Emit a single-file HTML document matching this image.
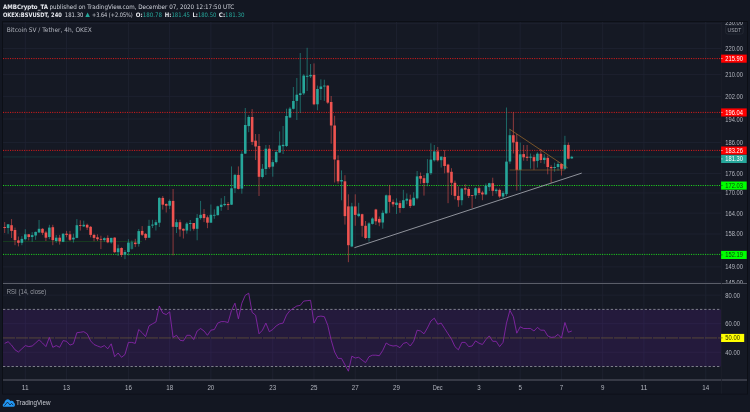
<!DOCTYPE html>
<html><head><meta charset="utf-8"><style>
html,body{margin:0;padding:0;background:#131722;width:750px;height:412px;overflow:hidden}
svg{display:block}
text{font-family:'Liberation Sans', Arial, sans-serif}
</style></head><body>
<svg width="750" height="412" viewBox="0 0 750 412">
<rect x="0" y="0" width="750" height="412" fill="#131722"/>
<text x="3" y="9.1" font-size="6.2" fill="#e8eaf0" textLength="45" lengthAdjust="spacingAndGlyphs" font-weight="bold" style="font-family:'DejaVu Sans',sans-serif">AMBCrypto_TA</text>
<text x="49.4" y="9.1" font-size="6.2" fill="#d1d4dc" textLength="184.8" lengthAdjust="spacingAndGlyphs" style="font-family:'DejaVu Sans',sans-serif">published on TradingView.com, December 07, 2020 12:17:50 UTC</text>
<text x="3" y="17.1" font-size="6.1" fill="#e8eaf0" textLength="58.8" lengthAdjust="spacingAndGlyphs" font-weight="bold" style="font-family:'DejaVu Sans',sans-serif">OKEX:BSVUSDT, 240</text>
<text x="64.8" y="17.1" font-size="6.1" fill="#d1d4dc" textLength="18.6" lengthAdjust="spacingAndGlyphs" style="font-family:'DejaVu Sans',sans-serif">181.30</text>
<polygon points="85.3,16.9 89.9,16.9 87.6,12.5" fill="#26a69a"/>
<text x="92" y="17.1" font-size="6.1" fill="#d1d4dc" textLength="40.8" lengthAdjust="spacingAndGlyphs" style="font-family:'DejaVu Sans',sans-serif">+3.64 (+2.05%)</text>
<text x="135.8" y="17.1" font-size="6.1" fill="#26a69a" textLength="26.2" lengthAdjust="spacingAndGlyphs" style="font-family:'DejaVu Sans',sans-serif"><tspan font-weight="bold" fill="#e8eaf0">O:</tspan>180.78</text>
<text x="164.8" y="17.1" font-size="6.1" fill="#26a69a" textLength="25.2" lengthAdjust="spacingAndGlyphs" style="font-family:'DejaVu Sans',sans-serif"><tspan font-weight="bold" fill="#e8eaf0">H:</tspan>181.45</text>
<text x="192.4" y="17.1" font-size="6.1" fill="#26a69a" textLength="24.0" lengthAdjust="spacingAndGlyphs" style="font-family:'DejaVu Sans',sans-serif"><tspan font-weight="bold" fill="#e8eaf0">L:</tspan>180.50</text>
<text x="218.8" y="17.1" font-size="6.1" fill="#26a69a" textLength="25.8" lengthAdjust="spacingAndGlyphs" style="font-family:'DejaVu Sans',sans-serif"><tspan font-weight="bold" fill="#e8eaf0">C:</tspan>181.30</text>
<rect x="2.5" y="21.5" width="745" height="372.5" fill="#151924" stroke="#0c0f16" stroke-width="1"/>
<line x1="25.30" y1="22" x2="25.30" y2="380" stroke="#1f2332" stroke-width="0.8"/>
<line x1="66.54" y1="22" x2="66.54" y2="380" stroke="#1f2332" stroke-width="0.8"/>
<line x1="128.40" y1="22" x2="128.40" y2="380" stroke="#1f2332" stroke-width="0.8"/>
<line x1="169.64" y1="22" x2="169.64" y2="380" stroke="#1f2332" stroke-width="0.8"/>
<line x1="210.88" y1="22" x2="210.88" y2="380" stroke="#1f2332" stroke-width="0.8"/>
<line x1="272.74" y1="22" x2="272.74" y2="380" stroke="#1f2332" stroke-width="0.8"/>
<line x1="313.98" y1="22" x2="313.98" y2="380" stroke="#1f2332" stroke-width="0.8"/>
<line x1="355.22" y1="22" x2="355.22" y2="380" stroke="#1f2332" stroke-width="0.8"/>
<line x1="396.46" y1="22" x2="396.46" y2="380" stroke="#1f2332" stroke-width="0.8"/>
<line x1="437.70" y1="22" x2="437.70" y2="380" stroke="#1f2332" stroke-width="0.8"/>
<line x1="478.94" y1="22" x2="478.94" y2="380" stroke="#1f2332" stroke-width="0.8"/>
<line x1="520.18" y1="22" x2="520.18" y2="380" stroke="#1f2332" stroke-width="0.8"/>
<line x1="561.42" y1="22" x2="561.42" y2="380" stroke="#1f2332" stroke-width="0.8"/>
<line x1="602.66" y1="22" x2="602.66" y2="380" stroke="#1f2332" stroke-width="0.8"/>
<line x1="643.90" y1="22" x2="643.90" y2="380" stroke="#1f2332" stroke-width="0.8"/>
<line x1="705.76" y1="22" x2="705.76" y2="380" stroke="#1f2332" stroke-width="0.8"/>
<line x1="3" y1="23.66" x2="721" y2="23.66" stroke="#1f2332" stroke-width="0.8"/>
<line x1="3" y1="48.56" x2="721" y2="48.56" stroke="#1f2332" stroke-width="0.8"/>
<line x1="3" y1="74.61" x2="721" y2="74.61" stroke="#1f2332" stroke-width="0.8"/>
<line x1="3" y1="96.37" x2="721" y2="96.37" stroke="#1f2332" stroke-width="0.8"/>
<line x1="3" y1="119.01" x2="721" y2="119.01" stroke="#1f2332" stroke-width="0.8"/>
<line x1="3" y1="142.60" x2="721" y2="142.60" stroke="#1f2332" stroke-width="0.8"/>
<line x1="3" y1="173.55" x2="721" y2="173.55" stroke="#1f2332" stroke-width="0.8"/>
<line x1="3" y1="192.98" x2="721" y2="192.98" stroke="#1f2332" stroke-width="0.8"/>
<line x1="3" y1="213.11" x2="721" y2="213.11" stroke="#1f2332" stroke-width="0.8"/>
<line x1="3" y1="233.99" x2="721" y2="233.99" stroke="#1f2332" stroke-width="0.8"/>
<line x1="3" y1="266.84" x2="721" y2="266.84" stroke="#1f2332" stroke-width="0.8"/>
<line x1="3" y1="282.08" x2="721" y2="282.08" stroke="#1f2332" stroke-width="0.8"/>
<line x1="3" y1="295.12" x2="721" y2="295.12" stroke="#1f2332" stroke-width="0.8"/>
<line x1="3" y1="323.68" x2="721" y2="323.68" stroke="#1f2332" stroke-width="0.8"/>
<line x1="3" y1="352.22" x2="721" y2="352.22" stroke="#1f2332" stroke-width="0.8"/>
<rect x="3" y="309.40" width="718" height="57.10" fill="#7d22d8" fill-opacity="0.14"/>
<line x1="3" y1="309.40" x2="721" y2="309.40" stroke="#9598a1" stroke-width="0.8" stroke-dasharray="2.3 1.95"/>
<line x1="3" y1="366.50" x2="721" y2="366.50" stroke="#9598a1" stroke-width="0.8" stroke-dasharray="2.3 1.95"/>
<line x1="3" y1="337.95" x2="721" y2="337.95" stroke="#857238" stroke-width="0.5" stroke-dasharray="12 1"/>
<polyline points="4.68,343.40 8.12,341.70 11.55,345.10 14.99,349.80 18.43,352.00 21.86,348.80 25.30,345.60 28.74,346.60 32.18,346.00 35.61,343.00 39.05,339.80 42.49,343.00 45.92,346.60 49.36,337.40 52.80,347.30 56.23,345.60 59.67,347.30 63.11,340.60 66.55,341.30 69.98,345.10 73.42,343.80 76.86,332.70 80.29,332.30 83.73,331.70 87.17,333.80 90.60,340.90 94.04,344.50 97.48,346.00 100.92,347.30 104.35,345.60 107.79,348.80 111.23,343.80 114.66,356.70 118.10,353.00 121.54,357.30 124.97,354.50 128.41,342.40 131.85,342.40 135.29,343.40 138.72,329.50 142.16,332.70 145.60,336.60 149.03,325.90 152.47,323.80 155.91,322.00 159.34,306.00 162.78,313.10 166.22,314.60 169.66,311.80 173.09,337.40 176.53,335.30 179.97,340.20 183.40,340.90 186.84,335.30 190.28,335.30 193.72,339.60 197.15,331.00 200.59,328.50 204.03,331.00 207.46,335.30 210.90,330.20 214.34,329.50 217.77,323.10 221.21,321.60 224.65,321.60 228.09,322.50 231.52,310.30 234.96,303.20 238.40,318.80 241.83,303.20 245.27,295.30 248.71,293.20 252.14,312.40 255.58,315.20 259.02,333.80 262.45,330.20 265.89,323.10 269.33,331.70 272.77,329.50 276.20,325.90 279.64,323.80 283.08,323.10 286.51,315.00 289.95,310.60 293.39,308.20 296.82,306.00 300.26,305.40 303.70,301.10 307.14,300.70 310.57,300.30 314.01,323.10 317.45,316.70 320.88,316.10 324.32,316.70 327.76,325.30 331.19,340.20 334.63,352.00 338.07,358.40 341.51,358.40 344.94,364.80 348.38,371.20 351.82,356.20 355.25,358.00 358.69,357.30 362.13,360.10 365.56,362.60 369.00,356.70 372.44,355.20 375.88,355.20 379.31,355.70 382.75,350.40 386.19,343.00 389.62,345.10 393.06,346.00 396.50,345.60 399.94,347.70 403.37,343.40 406.81,342.40 410.25,346.00 413.68,341.30 417.12,330.20 420.56,331.00 423.99,333.80 427.43,328.00 430.87,321.00 434.31,318.20 437.74,324.20 441.18,323.10 444.62,328.50 448.05,333.80 451.49,339.10 454.93,346.60 458.36,349.80 461.80,342.40 465.24,342.40 468.68,346.60 472.11,346.00 475.55,340.90 478.99,343.20 482.42,344.50 485.86,339.60 489.30,335.90 492.73,341.30 496.17,341.30 499.61,346.60 503.04,342.40 506.48,323.10 509.92,310.30 513.36,316.70 516.79,333.20 520.23,326.80 523.67,328.50 527.10,328.50 530.54,328.50 533.98,331.00 537.41,327.40 540.85,330.20 544.29,330.20 547.73,335.90 551.16,337.40 554.60,337.00 558.04,334.40 561.47,338.10 564.91,322.50 568.35,332.30 571.78,331.00" fill="none" stroke="#9027b4" stroke-width="0.8" stroke-linejoin="round"/>
<line x1="3" y1="58.60" x2="721" y2="58.60" stroke="#d81c1c" stroke-width="1" stroke-dasharray="1.1 1.24"/>
<line x1="3" y1="112.40" x2="721" y2="112.40" stroke="#d81c1c" stroke-width="1" stroke-dasharray="1.1 1.24"/>
<line x1="3" y1="150.40" x2="721" y2="150.40" stroke="#d81c1c" stroke-width="1" stroke-dasharray="1.1 1.24"/>
<line x1="3" y1="185.50" x2="721" y2="185.50" stroke="#1fd41f" stroke-width="1" stroke-dasharray="1.1 1.24"/>
<line x1="3" y1="254.40" x2="721" y2="254.40" stroke="#1fd41f" stroke-width="1" stroke-dasharray="1.1 1.24"/>
<line x1="3" y1="241.5" x2="142" y2="241.5" stroke="#1a501e" stroke-width="0.6"/>
<line x1="3" y1="156.93" x2="721" y2="156.93" stroke="#1b4446" stroke-width="0.6"/>
<line x1="4.68" y1="222.10" x2="4.68" y2="233.00" stroke="#e0504d" stroke-width="0.6"/>
<rect x="3.38" y="227.00" width="2.6" height="1.00" fill="#ef5350"/>
<line x1="8.12" y1="224.00" x2="8.12" y2="233.70" stroke="#24a094" stroke-width="0.6"/>
<rect x="6.82" y="224.30" width="2.6" height="3.70" fill="#26a69a"/>
<line x1="11.55" y1="219.10" x2="11.55" y2="238.00" stroke="#e0504d" stroke-width="0.6"/>
<rect x="10.25" y="225.20" width="2.6" height="5.70" fill="#ef5350"/>
<line x1="14.99" y1="227.60" x2="14.99" y2="245.20" stroke="#e0504d" stroke-width="0.6"/>
<rect x="13.69" y="230.00" width="2.6" height="10.10" fill="#ef5350"/>
<line x1="18.43" y1="236.50" x2="18.43" y2="246.40" stroke="#e0504d" stroke-width="0.6"/>
<rect x="17.13" y="240.40" width="2.6" height="2.40" fill="#ef5350"/>
<line x1="21.86" y1="236.10" x2="21.86" y2="245.20" stroke="#24a094" stroke-width="0.6"/>
<rect x="20.56" y="238.90" width="2.6" height="3.90" fill="#26a69a"/>
<line x1="25.30" y1="229.20" x2="25.30" y2="240.40" stroke="#24a094" stroke-width="0.6"/>
<rect x="24.00" y="234.30" width="2.6" height="4.90" fill="#26a69a"/>
<line x1="28.74" y1="234.00" x2="28.74" y2="240.40" stroke="#e0504d" stroke-width="0.6"/>
<rect x="27.44" y="234.30" width="2.6" height="2.70" fill="#ef5350"/>
<line x1="32.18" y1="232.10" x2="32.18" y2="241.80" stroke="#24a094" stroke-width="0.6"/>
<rect x="30.88" y="235.10" width="2.6" height="1.90" fill="#26a69a"/>
<line x1="35.61" y1="231.60" x2="35.61" y2="239.80" stroke="#24a094" stroke-width="0.6"/>
<rect x="34.31" y="231.90" width="2.6" height="3.60" fill="#26a69a"/>
<line x1="39.05" y1="220.00" x2="39.05" y2="232.70" stroke="#24a094" stroke-width="0.6"/>
<rect x="37.75" y="228.80" width="2.6" height="3.70" fill="#26a69a"/>
<line x1="42.49" y1="228.20" x2="42.49" y2="234.90" stroke="#e0504d" stroke-width="0.6"/>
<rect x="41.19" y="228.80" width="2.6" height="4.00" fill="#ef5350"/>
<line x1="45.92" y1="230.90" x2="45.92" y2="241.00" stroke="#e0504d" stroke-width="0.6"/>
<rect x="44.62" y="232.50" width="2.6" height="5.20" fill="#ef5350"/>
<line x1="49.36" y1="224.80" x2="49.36" y2="239.20" stroke="#24a094" stroke-width="0.6"/>
<rect x="48.06" y="227.60" width="2.6" height="9.40" fill="#26a69a"/>
<line x1="52.80" y1="224.80" x2="52.80" y2="245.20" stroke="#e0504d" stroke-width="0.6"/>
<rect x="51.50" y="227.20" width="2.6" height="12.90" fill="#ef5350"/>
<line x1="56.23" y1="235.00" x2="56.23" y2="242.80" stroke="#24a094" stroke-width="0.6"/>
<rect x="54.94" y="237.70" width="2.6" height="3.30" fill="#26a69a"/>
<line x1="59.67" y1="234.90" x2="59.67" y2="244.60" stroke="#e0504d" stroke-width="0.6"/>
<rect x="58.37" y="237.70" width="2.6" height="3.60" fill="#ef5350"/>
<line x1="63.11" y1="233.30" x2="63.11" y2="242.20" stroke="#24a094" stroke-width="0.6"/>
<rect x="61.81" y="233.70" width="2.6" height="8.10" fill="#26a69a"/>
<line x1="66.55" y1="230.90" x2="66.55" y2="237.30" stroke="#e0504d" stroke-width="0.6"/>
<rect x="65.25" y="233.70" width="2.6" height="1.20" fill="#ef5350"/>
<line x1="69.98" y1="230.90" x2="69.98" y2="241.00" stroke="#e0504d" stroke-width="0.6"/>
<rect x="68.68" y="234.30" width="2.6" height="5.50" fill="#ef5350"/>
<line x1="73.42" y1="233.70" x2="73.42" y2="242.60" stroke="#24a094" stroke-width="0.6"/>
<rect x="72.12" y="237.70" width="2.6" height="1.70" fill="#26a69a"/>
<line x1="76.86" y1="219.10" x2="76.86" y2="238.20" stroke="#24a094" stroke-width="0.6"/>
<rect x="75.56" y="225.20" width="2.6" height="12.70" fill="#26a69a"/>
<line x1="80.29" y1="220.30" x2="80.29" y2="230.60" stroke="#e0504d" stroke-width="0.6"/>
<rect x="78.99" y="225.20" width="2.6" height="0.80" fill="#ef5350"/>
<line x1="83.73" y1="220.70" x2="83.73" y2="227.00" stroke="#24a094" stroke-width="0.6"/>
<rect x="82.43" y="224.80" width="2.6" height="1.60" fill="#26a69a"/>
<line x1="87.17" y1="223.60" x2="87.17" y2="230.00" stroke="#e0504d" stroke-width="0.6"/>
<rect x="85.87" y="224.80" width="2.6" height="2.80" fill="#ef5350"/>
<line x1="90.60" y1="226.00" x2="90.60" y2="237.30" stroke="#e0504d" stroke-width="0.6"/>
<rect x="89.30" y="226.80" width="2.6" height="8.10" fill="#ef5350"/>
<line x1="94.04" y1="233.70" x2="94.04" y2="241.30" stroke="#e0504d" stroke-width="0.6"/>
<rect x="92.74" y="234.90" width="2.6" height="3.00" fill="#ef5350"/>
<line x1="97.48" y1="234.30" x2="97.48" y2="241.00" stroke="#e0504d" stroke-width="0.6"/>
<rect x="96.18" y="237.30" width="2.6" height="1.90" fill="#ef5350"/>
<line x1="100.92" y1="235.70" x2="100.92" y2="249.10" stroke="#e0504d" stroke-width="0.6"/>
<rect x="99.62" y="238.90" width="2.6" height="0.90" fill="#ef5350"/>
<line x1="104.35" y1="237.30" x2="104.35" y2="241.80" stroke="#24a094" stroke-width="0.6"/>
<rect x="103.05" y="238.20" width="2.6" height="1.90" fill="#26a69a"/>
<line x1="107.79" y1="235.30" x2="107.79" y2="243.20" stroke="#e0504d" stroke-width="0.6"/>
<rect x="106.49" y="237.90" width="2.6" height="4.40" fill="#ef5350"/>
<line x1="111.23" y1="237.80" x2="111.23" y2="243.70" stroke="#24a094" stroke-width="0.6"/>
<rect x="109.93" y="237.90" width="2.6" height="4.50" fill="#26a69a"/>
<line x1="114.66" y1="237.30" x2="114.66" y2="252.80" stroke="#e0504d" stroke-width="0.6"/>
<rect x="113.36" y="237.60" width="2.6" height="14.60" fill="#ef5350"/>
<line x1="118.10" y1="244.60" x2="118.10" y2="256.00" stroke="#24a094" stroke-width="0.6"/>
<rect x="116.80" y="248.30" width="2.6" height="3.90" fill="#26a69a"/>
<line x1="121.54" y1="247.30" x2="121.54" y2="257.00" stroke="#e0504d" stroke-width="0.6"/>
<rect x="120.24" y="248.00" width="2.6" height="6.90" fill="#ef5350"/>
<line x1="124.97" y1="250.00" x2="124.97" y2="259.20" stroke="#24a094" stroke-width="0.6"/>
<rect x="123.67" y="252.00" width="2.6" height="2.60" fill="#26a69a"/>
<line x1="128.41" y1="239.20" x2="128.41" y2="255.50" stroke="#24a094" stroke-width="0.6"/>
<rect x="127.11" y="242.60" width="2.6" height="9.40" fill="#26a69a"/>
<line x1="131.85" y1="240.50" x2="131.85" y2="249.50" stroke="#24a094" stroke-width="0.6"/>
<rect x="130.55" y="242.00" width="2.6" height="6.90" fill="#1d6e68"/>
<line x1="135.29" y1="238.80" x2="135.29" y2="247.10" stroke="#e0504d" stroke-width="0.6"/>
<rect x="133.99" y="242.60" width="2.6" height="1.50" fill="#ef5350"/>
<line x1="138.72" y1="229.00" x2="138.72" y2="246.60" stroke="#24a094" stroke-width="0.6"/>
<rect x="137.42" y="231.10" width="2.6" height="12.80" fill="#26a69a"/>
<line x1="142.16" y1="226.10" x2="142.16" y2="236.00" stroke="#e0504d" stroke-width="0.6"/>
<rect x="140.86" y="230.90" width="2.6" height="3.90" fill="#ef5350"/>
<line x1="145.60" y1="233.00" x2="145.60" y2="240.20" stroke="#e0504d" stroke-width="0.6"/>
<rect x="144.30" y="233.90" width="2.6" height="4.00" fill="#ef5350"/>
<line x1="149.03" y1="219.80" x2="149.03" y2="238.00" stroke="#24a094" stroke-width="0.6"/>
<rect x="147.73" y="225.90" width="2.6" height="11.80" fill="#26a69a"/>
<line x1="152.47" y1="219.80" x2="152.47" y2="228.00" stroke="#24a094" stroke-width="0.6"/>
<rect x="151.17" y="224.60" width="2.6" height="1.00" fill="#26a69a"/>
<line x1="155.91" y1="219.80" x2="155.91" y2="230.50" stroke="#24a094" stroke-width="0.6"/>
<rect x="154.61" y="222.20" width="2.6" height="2.90" fill="#26a69a"/>
<line x1="159.34" y1="197.20" x2="159.34" y2="227.00" stroke="#24a094" stroke-width="0.6"/>
<rect x="158.04" y="197.90" width="2.6" height="24.80" fill="#26a69a"/>
<line x1="162.78" y1="196.00" x2="162.78" y2="209.60" stroke="#e0504d" stroke-width="0.6"/>
<rect x="161.48" y="197.90" width="2.6" height="6.80" fill="#ef5350"/>
<line x1="166.22" y1="203.30" x2="166.22" y2="212.50" stroke="#e0504d" stroke-width="0.6"/>
<rect x="164.92" y="204.00" width="2.6" height="1.70" fill="#ef5350"/>
<line x1="169.66" y1="199.40" x2="169.66" y2="209.10" stroke="#24a094" stroke-width="0.6"/>
<rect x="168.36" y="200.90" width="2.6" height="4.80" fill="#26a69a"/>
<line x1="173.09" y1="189.00" x2="173.09" y2="255.40" stroke="#e0504d" stroke-width="0.6"/>
<rect x="171.79" y="200.90" width="2.6" height="25.90" fill="#ef5350"/>
<line x1="176.53" y1="219.30" x2="176.53" y2="233.00" stroke="#24a094" stroke-width="0.6"/>
<rect x="175.23" y="222.20" width="2.6" height="4.80" fill="#26a69a"/>
<line x1="179.97" y1="219.70" x2="179.97" y2="236.70" stroke="#e0504d" stroke-width="0.6"/>
<rect x="178.67" y="222.20" width="2.6" height="7.20" fill="#ef5350"/>
<line x1="183.40" y1="228.40" x2="183.40" y2="238.50" stroke="#e0504d" stroke-width="0.6"/>
<rect x="182.10" y="228.80" width="2.6" height="1.80" fill="#ef5350"/>
<line x1="186.84" y1="222.10" x2="186.84" y2="233.70" stroke="#24a094" stroke-width="0.6"/>
<rect x="185.54" y="223.60" width="2.6" height="6.90" fill="#26a69a"/>
<line x1="190.28" y1="220.00" x2="190.28" y2="231.20" stroke="#24a094" stroke-width="0.6"/>
<rect x="188.98" y="223.00" width="2.6" height="1.00" fill="#26a69a"/>
<line x1="193.72" y1="223.00" x2="193.72" y2="230.60" stroke="#e0504d" stroke-width="0.6"/>
<rect x="192.41" y="223.00" width="2.6" height="5.80" fill="#ef5350"/>
<line x1="197.15" y1="214.00" x2="197.15" y2="240.30" stroke="#24a094" stroke-width="0.6"/>
<rect x="195.85" y="217.90" width="2.6" height="10.90" fill="#26a69a"/>
<line x1="200.59" y1="200.90" x2="200.59" y2="219.70" stroke="#24a094" stroke-width="0.6"/>
<rect x="199.29" y="214.80" width="2.6" height="3.30" fill="#26a69a"/>
<line x1="204.03" y1="209.10" x2="204.03" y2="222.10" stroke="#e0504d" stroke-width="0.6"/>
<rect x="202.73" y="214.00" width="2.6" height="4.10" fill="#ef5350"/>
<line x1="207.46" y1="215.40" x2="207.46" y2="228.20" stroke="#e0504d" stroke-width="0.6"/>
<rect x="206.16" y="217.30" width="2.6" height="5.40" fill="#ef5350"/>
<line x1="210.90" y1="204.50" x2="210.90" y2="222.70" stroke="#24a094" stroke-width="0.6"/>
<rect x="209.60" y="214.80" width="2.6" height="7.90" fill="#26a69a"/>
<line x1="214.34" y1="209.40" x2="214.34" y2="218.80" stroke="#24a094" stroke-width="0.6"/>
<rect x="213.04" y="214.80" width="2.6" height="0.90" fill="#26a69a"/>
<line x1="217.77" y1="205.70" x2="217.77" y2="215.40" stroke="#24a094" stroke-width="0.6"/>
<rect x="216.47" y="206.30" width="2.6" height="8.90" fill="#26a69a"/>
<line x1="221.21" y1="198.20" x2="221.21" y2="210.80" stroke="#24a094" stroke-width="0.6"/>
<rect x="219.91" y="204.70" width="2.6" height="2.20" fill="#26a69a"/>
<line x1="224.65" y1="196.00" x2="224.65" y2="206.30" stroke="#24a094" stroke-width="0.6"/>
<rect x="223.35" y="203.90" width="2.6" height="1.20" fill="#26a69a"/>
<line x1="228.09" y1="202.00" x2="228.09" y2="210.00" stroke="#e0504d" stroke-width="0.6"/>
<rect x="226.78" y="204.00" width="2.6" height="1.10" fill="#ef5350"/>
<line x1="231.52" y1="166.40" x2="231.52" y2="205.00" stroke="#24a094" stroke-width="0.6"/>
<rect x="230.22" y="188.30" width="2.6" height="16.40" fill="#26a69a"/>
<line x1="234.96" y1="174.00" x2="234.96" y2="193.00" stroke="#24a094" stroke-width="0.6"/>
<rect x="233.66" y="174.90" width="2.6" height="13.40" fill="#26a69a"/>
<line x1="238.40" y1="166.40" x2="238.40" y2="189.50" stroke="#e0504d" stroke-width="0.6"/>
<rect x="237.10" y="174.90" width="2.6" height="14.00" fill="#ef5350"/>
<line x1="241.83" y1="151.20" x2="241.83" y2="193.70" stroke="#24a094" stroke-width="0.6"/>
<rect x="240.53" y="153.80" width="2.6" height="34.80" fill="#26a69a"/>
<line x1="245.27" y1="108.00" x2="245.27" y2="154.00" stroke="#24a094" stroke-width="0.6"/>
<rect x="243.97" y="125.00" width="2.6" height="28.60" fill="#26a69a"/>
<line x1="248.71" y1="115.20" x2="248.71" y2="132.20" stroke="#24a094" stroke-width="0.6"/>
<rect x="247.41" y="117.00" width="2.6" height="9.10" fill="#26a69a"/>
<line x1="252.14" y1="109.10" x2="252.14" y2="145.00" stroke="#e0504d" stroke-width="0.6"/>
<rect x="250.84" y="117.00" width="2.6" height="24.90" fill="#ef5350"/>
<line x1="255.58" y1="134.00" x2="255.58" y2="160.00" stroke="#e0504d" stroke-width="0.6"/>
<rect x="254.28" y="140.70" width="2.6" height="5.80" fill="#ef5350"/>
<line x1="259.02" y1="134.00" x2="259.02" y2="196.00" stroke="#e0504d" stroke-width="0.6"/>
<rect x="257.72" y="146.00" width="2.6" height="30.80" fill="#ef5350"/>
<line x1="262.45" y1="164.00" x2="262.45" y2="178.50" stroke="#24a094" stroke-width="0.6"/>
<rect x="261.15" y="168.80" width="2.6" height="8.20" fill="#26a69a"/>
<line x1="265.89" y1="145.00" x2="265.89" y2="175.00" stroke="#24a094" stroke-width="0.6"/>
<rect x="264.59" y="148.70" width="2.6" height="20.30" fill="#26a69a"/>
<line x1="269.33" y1="145.00" x2="269.33" y2="168.80" stroke="#e0504d" stroke-width="0.6"/>
<rect x="268.03" y="148.70" width="2.6" height="18.50" fill="#ef5350"/>
<line x1="272.77" y1="159.70" x2="272.77" y2="176.70" stroke="#24a094" stroke-width="0.6"/>
<rect x="271.47" y="162.10" width="2.6" height="4.50" fill="#26a69a"/>
<line x1="276.20" y1="150.00" x2="276.20" y2="163.40" stroke="#24a094" stroke-width="0.6"/>
<rect x="274.90" y="152.00" width="2.6" height="10.10" fill="#26a69a"/>
<line x1="279.64" y1="131.40" x2="279.64" y2="153.00" stroke="#24a094" stroke-width="0.6"/>
<rect x="278.34" y="145.50" width="2.6" height="7.00" fill="#26a69a"/>
<line x1="283.08" y1="126.00" x2="283.08" y2="154.00" stroke="#24a094" stroke-width="0.6"/>
<rect x="281.78" y="144.80" width="2.6" height="1.40" fill="#26a69a"/>
<line x1="286.51" y1="108.70" x2="286.51" y2="147.00" stroke="#24a094" stroke-width="0.6"/>
<rect x="285.21" y="116.00" width="2.6" height="30.00" fill="#26a69a"/>
<line x1="289.95" y1="106.90" x2="289.95" y2="118.00" stroke="#24a094" stroke-width="0.6"/>
<rect x="288.65" y="108.60" width="2.6" height="8.90" fill="#26a69a"/>
<line x1="293.39" y1="87.00" x2="293.39" y2="109.50" stroke="#24a094" stroke-width="0.6"/>
<rect x="292.09" y="101.00" width="2.6" height="7.80" fill="#26a69a"/>
<line x1="296.82" y1="78.00" x2="296.82" y2="120.00" stroke="#24a094" stroke-width="0.6"/>
<rect x="295.52" y="94.70" width="2.6" height="6.20" fill="#26a69a"/>
<line x1="300.26" y1="53.00" x2="300.26" y2="113.00" stroke="#24a094" stroke-width="0.6"/>
<rect x="298.96" y="93.30" width="2.6" height="1.70" fill="#26a69a"/>
<line x1="303.70" y1="74.20" x2="303.70" y2="95.00" stroke="#24a094" stroke-width="0.6"/>
<rect x="302.40" y="75.60" width="2.6" height="17.80" fill="#26a69a"/>
<line x1="307.14" y1="47.80" x2="307.14" y2="91.00" stroke="#24a094" stroke-width="0.6"/>
<rect x="305.84" y="75.80" width="2.6" height="1.00" fill="#26a69a"/>
<line x1="310.57" y1="64.00" x2="310.57" y2="78.00" stroke="#24a094" stroke-width="0.6"/>
<rect x="309.27" y="74.90" width="2.6" height="1.40" fill="#26a69a"/>
<line x1="314.01" y1="63.40" x2="314.01" y2="105.20" stroke="#e0504d" stroke-width="0.6"/>
<rect x="312.71" y="74.90" width="2.6" height="29.40" fill="#ef5350"/>
<line x1="317.45" y1="85.60" x2="317.45" y2="110.30" stroke="#24a094" stroke-width="0.6"/>
<rect x="316.15" y="89.00" width="2.6" height="15.30" fill="#26a69a"/>
<line x1="320.88" y1="79.30" x2="320.88" y2="100.00" stroke="#24a094" stroke-width="0.6"/>
<rect x="319.58" y="86.50" width="2.6" height="2.50" fill="#26a69a"/>
<line x1="324.32" y1="79.70" x2="324.32" y2="100.90" stroke="#24a094" stroke-width="0.6"/>
<rect x="323.02" y="85.60" width="2.6" height="0.90" fill="#26a69a"/>
<line x1="327.76" y1="85.30" x2="327.76" y2="103.90" stroke="#e0504d" stroke-width="0.6"/>
<rect x="326.46" y="85.60" width="2.6" height="17.00" fill="#ef5350"/>
<line x1="331.19" y1="96.00" x2="331.19" y2="143.70" stroke="#e0504d" stroke-width="0.6"/>
<rect x="329.89" y="102.00" width="2.6" height="23.50" fill="#ef5350"/>
<line x1="334.63" y1="115.80" x2="334.63" y2="182.50" stroke="#e0504d" stroke-width="0.6"/>
<rect x="333.33" y="125.50" width="2.6" height="34.00" fill="#ef5350"/>
<line x1="338.07" y1="155.30" x2="338.07" y2="183.70" stroke="#e0504d" stroke-width="0.6"/>
<rect x="336.77" y="160.20" width="2.6" height="21.10" fill="#ef5350"/>
<line x1="341.51" y1="170.40" x2="341.51" y2="200.30" stroke="#24a094" stroke-width="0.6"/>
<rect x="340.21" y="180.00" width="2.6" height="1.50" fill="#26a69a"/>
<line x1="344.94" y1="175.20" x2="344.94" y2="224.60" stroke="#e0504d" stroke-width="0.6"/>
<rect x="343.64" y="181.30" width="2.6" height="34.80" fill="#ef5350"/>
<line x1="348.38" y1="194.30" x2="348.38" y2="262.20" stroke="#e0504d" stroke-width="0.6"/>
<rect x="347.08" y="206.40" width="2.6" height="38.80" fill="#ef5350"/>
<line x1="351.82" y1="202.80" x2="351.82" y2="247.20" stroke="#24a094" stroke-width="0.6"/>
<rect x="350.52" y="206.40" width="2.6" height="40.10" fill="#26a69a"/>
<line x1="355.25" y1="194.30" x2="355.25" y2="225.80" stroke="#e0504d" stroke-width="0.6"/>
<rect x="353.95" y="206.40" width="2.6" height="8.50" fill="#ef5350"/>
<line x1="358.69" y1="202.80" x2="358.69" y2="217.30" stroke="#24a094" stroke-width="0.6"/>
<rect x="357.39" y="213.70" width="2.6" height="2.40" fill="#26a69a"/>
<line x1="362.13" y1="213.70" x2="362.13" y2="236.70" stroke="#e0504d" stroke-width="0.6"/>
<rect x="360.83" y="214.20" width="2.6" height="11.60" fill="#ef5350"/>
<line x1="365.56" y1="221.00" x2="365.56" y2="239.20" stroke="#e0504d" stroke-width="0.6"/>
<rect x="364.26" y="225.80" width="2.6" height="12.20" fill="#ef5350"/>
<line x1="369.00" y1="222.20" x2="369.00" y2="241.60" stroke="#24a094" stroke-width="0.6"/>
<rect x="367.70" y="223.40" width="2.6" height="14.60" fill="#26a69a"/>
<line x1="372.44" y1="217.30" x2="372.44" y2="224.60" stroke="#24a094" stroke-width="0.6"/>
<rect x="371.14" y="218.50" width="2.6" height="5.40" fill="#26a69a"/>
<line x1="375.88" y1="208.80" x2="375.88" y2="225.00" stroke="#e0504d" stroke-width="0.6"/>
<rect x="374.58" y="209.50" width="2.6" height="11.80" fill="#ef5350"/>
<line x1="379.31" y1="216.50" x2="379.31" y2="226.20" stroke="#e0504d" stroke-width="0.6"/>
<rect x="378.01" y="218.90" width="2.6" height="3.60" fill="#ef5350"/>
<line x1="382.75" y1="210.40" x2="382.75" y2="228.60" stroke="#24a094" stroke-width="0.6"/>
<rect x="381.45" y="212.80" width="2.6" height="9.70" fill="#26a69a"/>
<line x1="386.19" y1="194.50" x2="386.19" y2="214.00" stroke="#24a094" stroke-width="0.6"/>
<rect x="384.89" y="195.30" width="2.6" height="18.00" fill="#26a69a"/>
<line x1="389.62" y1="184.90" x2="389.62" y2="212.80" stroke="#e0504d" stroke-width="0.6"/>
<rect x="388.32" y="195.30" width="2.6" height="6.60" fill="#ef5350"/>
<line x1="393.06" y1="199.50" x2="393.06" y2="206.70" stroke="#e0504d" stroke-width="0.6"/>
<rect x="391.76" y="201.90" width="2.6" height="2.40" fill="#ef5350"/>
<line x1="396.50" y1="198.30" x2="396.50" y2="214.00" stroke="#24a094" stroke-width="0.6"/>
<rect x="395.20" y="202.60" width="2.6" height="2.40" fill="#26a69a"/>
<line x1="399.94" y1="200.70" x2="399.94" y2="212.80" stroke="#e0504d" stroke-width="0.6"/>
<rect x="398.63" y="203.10" width="2.6" height="4.90" fill="#ef5350"/>
<line x1="403.37" y1="189.80" x2="403.37" y2="208.40" stroke="#24a094" stroke-width="0.6"/>
<rect x="402.07" y="200.20" width="2.6" height="7.80" fill="#26a69a"/>
<line x1="406.81" y1="193.40" x2="406.81" y2="204.30" stroke="#24a094" stroke-width="0.6"/>
<rect x="405.51" y="198.70" width="2.6" height="2.00" fill="#26a69a"/>
<line x1="410.25" y1="194.60" x2="410.25" y2="208.00" stroke="#e0504d" stroke-width="0.6"/>
<rect x="408.95" y="199.50" width="2.6" height="6.50" fill="#ef5350"/>
<line x1="413.68" y1="192.20" x2="413.68" y2="206.00" stroke="#24a094" stroke-width="0.6"/>
<rect x="412.38" y="197.80" width="2.6" height="7.70" fill="#26a69a"/>
<line x1="417.12" y1="171.00" x2="417.12" y2="199.50" stroke="#24a094" stroke-width="0.6"/>
<rect x="415.82" y="176.40" width="2.6" height="21.90" fill="#26a69a"/>
<line x1="420.56" y1="172.50" x2="420.56" y2="183.70" stroke="#e0504d" stroke-width="0.6"/>
<rect x="419.26" y="176.00" width="2.6" height="2.70" fill="#ef5350"/>
<line x1="423.99" y1="174.90" x2="423.99" y2="195.60" stroke="#e0504d" stroke-width="0.6"/>
<rect x="422.69" y="178.20" width="2.6" height="4.80" fill="#ef5350"/>
<line x1="427.43" y1="159.10" x2="427.43" y2="186.30" stroke="#24a094" stroke-width="0.6"/>
<rect x="426.13" y="173.20" width="2.6" height="9.70" fill="#26a69a"/>
<line x1="430.87" y1="143.30" x2="430.87" y2="174.90" stroke="#24a094" stroke-width="0.6"/>
<rect x="429.57" y="159.60" width="2.6" height="13.60" fill="#26a69a"/>
<line x1="434.31" y1="145.00" x2="434.31" y2="161.60" stroke="#24a094" stroke-width="0.6"/>
<rect x="433.00" y="151.40" width="2.6" height="8.90" fill="#26a69a"/>
<line x1="437.74" y1="147.00" x2="437.74" y2="161.60" stroke="#e0504d" stroke-width="0.6"/>
<rect x="436.44" y="151.40" width="2.6" height="8.90" fill="#ef5350"/>
<line x1="441.18" y1="156.60" x2="441.18" y2="167.50" stroke="#24a094" stroke-width="0.6"/>
<rect x="439.88" y="156.60" width="2.6" height="3.60" fill="#26a69a"/>
<line x1="444.62" y1="150.00" x2="444.62" y2="173.30" stroke="#e0504d" stroke-width="0.6"/>
<rect x="443.32" y="157.00" width="2.6" height="9.00" fill="#ef5350"/>
<line x1="448.05" y1="163.80" x2="448.05" y2="203.20" stroke="#e0504d" stroke-width="0.6"/>
<rect x="446.75" y="164.60" width="2.6" height="8.00" fill="#ef5350"/>
<line x1="451.49" y1="168.20" x2="451.49" y2="195.10" stroke="#e0504d" stroke-width="0.6"/>
<rect x="450.19" y="171.80" width="2.6" height="11.00" fill="#ef5350"/>
<line x1="454.93" y1="180.60" x2="454.93" y2="199.50" stroke="#e0504d" stroke-width="0.6"/>
<rect x="453.63" y="182.80" width="2.6" height="13.10" fill="#ef5350"/>
<line x1="458.36" y1="186.40" x2="458.36" y2="206.80" stroke="#e0504d" stroke-width="0.6"/>
<rect x="457.06" y="195.90" width="2.6" height="4.30" fill="#ef5350"/>
<line x1="461.80" y1="187.90" x2="461.80" y2="205.30" stroke="#24a094" stroke-width="0.6"/>
<rect x="460.50" y="188.60" width="2.6" height="11.60" fill="#26a69a"/>
<line x1="465.24" y1="184.20" x2="465.24" y2="194.40" stroke="#e0504d" stroke-width="0.6"/>
<rect x="463.94" y="188.20" width="2.6" height="1.40" fill="#ef5350"/>
<line x1="468.68" y1="187.10" x2="468.68" y2="198.00" stroke="#e0504d" stroke-width="0.6"/>
<rect x="467.38" y="189.00" width="2.6" height="6.90" fill="#ef5350"/>
<line x1="472.11" y1="195.00" x2="472.11" y2="208.20" stroke="#e0504d" stroke-width="0.6"/>
<rect x="470.81" y="195.10" width="2.6" height="0.80" fill="#ef5350"/>
<line x1="475.55" y1="187.10" x2="475.55" y2="198.80" stroke="#24a094" stroke-width="0.6"/>
<rect x="474.25" y="188.20" width="2.6" height="7.20" fill="#26a69a"/>
<line x1="478.99" y1="186.40" x2="478.99" y2="195.00" stroke="#e0504d" stroke-width="0.6"/>
<rect x="477.69" y="188.20" width="2.6" height="4.80" fill="#ef5350"/>
<line x1="482.42" y1="190.80" x2="482.42" y2="200.20" stroke="#e0504d" stroke-width="0.6"/>
<rect x="481.12" y="192.50" width="2.6" height="1.90" fill="#ef5350"/>
<line x1="485.86" y1="183.50" x2="485.86" y2="195.20" stroke="#24a094" stroke-width="0.6"/>
<rect x="484.56" y="185.70" width="2.6" height="8.70" fill="#26a69a"/>
<line x1="489.30" y1="182.80" x2="489.30" y2="191.00" stroke="#24a094" stroke-width="0.6"/>
<rect x="488.00" y="183.20" width="2.6" height="3.90" fill="#26a69a"/>
<line x1="492.73" y1="177.70" x2="492.73" y2="195.90" stroke="#e0504d" stroke-width="0.6"/>
<rect x="491.43" y="183.20" width="2.6" height="7.60" fill="#ef5350"/>
<line x1="496.17" y1="188.20" x2="496.17" y2="193.60" stroke="#24a094" stroke-width="0.6"/>
<rect x="494.87" y="189.60" width="2.6" height="1.50" fill="#26a69a"/>
<line x1="499.61" y1="188.50" x2="499.61" y2="198.20" stroke="#e0504d" stroke-width="0.6"/>
<rect x="498.31" y="189.90" width="2.6" height="6.60" fill="#ef5350"/>
<line x1="503.04" y1="191.00" x2="503.04" y2="198.50" stroke="#24a094" stroke-width="0.6"/>
<rect x="501.74" y="192.90" width="2.6" height="3.60" fill="#26a69a"/>
<line x1="506.48" y1="107.50" x2="506.48" y2="196.00" stroke="#24a094" stroke-width="0.6"/>
<rect x="505.18" y="161.60" width="2.6" height="32.50" fill="#26a69a"/>
<line x1="509.92" y1="129.10" x2="509.92" y2="163.80" stroke="#24a094" stroke-width="0.6"/>
<rect x="508.62" y="135.20" width="2.6" height="26.30" fill="#26a69a"/>
<line x1="513.36" y1="112.10" x2="513.36" y2="153.50" stroke="#e0504d" stroke-width="0.6"/>
<rect x="512.06" y="135.20" width="2.6" height="7.30" fill="#ef5350"/>
<line x1="516.79" y1="134.00" x2="516.79" y2="190.50" stroke="#e0504d" stroke-width="0.6"/>
<rect x="515.49" y="141.80" width="2.6" height="28.00" fill="#ef5350"/>
<line x1="520.23" y1="142.50" x2="520.23" y2="190.50" stroke="#24a094" stroke-width="0.6"/>
<rect x="518.93" y="154.30" width="2.6" height="15.50" fill="#26a69a"/>
<line x1="523.67" y1="145.00" x2="523.67" y2="160.70" stroke="#e0504d" stroke-width="0.6"/>
<rect x="522.37" y="154.10" width="2.6" height="3.20" fill="#ef5350"/>
<line x1="527.10" y1="145.00" x2="527.10" y2="161.00" stroke="#e0504d" stroke-width="0.6"/>
<rect x="525.80" y="156.70" width="2.6" height="1.20" fill="#ef5350"/>
<line x1="530.54" y1="153.50" x2="530.54" y2="168.60" stroke="#24a094" stroke-width="0.6"/>
<rect x="529.24" y="156.70" width="2.6" height="1.00" fill="#26a69a"/>
<line x1="533.98" y1="154.60" x2="533.98" y2="169.80" stroke="#e0504d" stroke-width="0.6"/>
<rect x="532.68" y="157.10" width="2.6" height="4.20" fill="#ef5350"/>
<line x1="537.41" y1="152.20" x2="537.41" y2="167.60" stroke="#24a094" stroke-width="0.6"/>
<rect x="536.12" y="153.70" width="2.6" height="7.20" fill="#26a69a"/>
<line x1="540.85" y1="149.10" x2="540.85" y2="163.00" stroke="#e0504d" stroke-width="0.6"/>
<rect x="539.55" y="153.80" width="2.6" height="6.20" fill="#ef5350"/>
<line x1="544.29" y1="154.10" x2="544.29" y2="163.80" stroke="#24a094" stroke-width="0.6"/>
<rect x="542.99" y="157.70" width="2.6" height="2.30" fill="#26a69a"/>
<line x1="547.73" y1="155.50" x2="547.73" y2="174.30" stroke="#e0504d" stroke-width="0.6"/>
<rect x="546.43" y="157.90" width="2.6" height="9.10" fill="#ef5350"/>
<line x1="551.16" y1="165.20" x2="551.16" y2="182.80" stroke="#e0504d" stroke-width="0.6"/>
<rect x="549.86" y="167.00" width="2.6" height="1.20" fill="#ef5350"/>
<line x1="554.60" y1="162.70" x2="554.60" y2="171.80" stroke="#24a094" stroke-width="0.6"/>
<rect x="553.30" y="167.00" width="2.6" height="1.00" fill="#26a69a"/>
<line x1="558.04" y1="161.50" x2="558.04" y2="170.60" stroke="#24a094" stroke-width="0.6"/>
<rect x="556.74" y="164.00" width="2.6" height="3.00" fill="#26a69a"/>
<line x1="561.47" y1="163.50" x2="561.47" y2="175.50" stroke="#e0504d" stroke-width="0.6"/>
<rect x="560.17" y="164.00" width="2.6" height="4.80" fill="#ef5350"/>
<line x1="564.91" y1="135.80" x2="564.91" y2="170.00" stroke="#24a094" stroke-width="0.6"/>
<rect x="563.61" y="144.90" width="2.6" height="23.90" fill="#26a69a"/>
<line x1="568.35" y1="142.50" x2="568.35" y2="159.40" stroke="#e0504d" stroke-width="0.6"/>
<rect x="567.05" y="144.90" width="2.6" height="13.80" fill="#ef5350"/>
<line x1="571.78" y1="155.80" x2="571.78" y2="158.90" stroke="#24a094" stroke-width="0.6"/>
<rect x="570.49" y="156.80" width="2.6" height="1.60" fill="#26a69a"/>
<line x1="354.4" y1="247.7" x2="581.7" y2="173.1" stroke="#b8bbc3" stroke-width="0.75"/>
<line x1="509.5" y1="129.1" x2="567.8" y2="168" stroke="#b8782a" stroke-width="0.6"/>
<line x1="509.6" y1="170" x2="564.7" y2="170" stroke="#a87028" stroke-width="0.5"/>
<text x="6.7" y="32.1" font-size="6.3" fill="#b2b5be" textLength="85" lengthAdjust="spacingAndGlyphs" style="font-family:'DejaVu Sans',sans-serif">Bitcoin SV / Tether, 4h, OKEX</text>
<text x="6.8" y="293.7" font-size="6.5" fill="#9598a1" textLength="39.5" lengthAdjust="spacingAndGlyphs">RSI (14, close)</text>
<rect x="3" y="380.5" width="744" height="13" fill="#131722"/>
<line x1="3" y1="283.5" x2="747" y2="283.5" stroke="#5a5d68" stroke-width="1.1"/>
<line x1="3" y1="380" x2="747" y2="380" stroke="#5a5d68" stroke-width="1.1"/>
<line x1="721.5" y1="22" x2="721.5" y2="393.5" stroke="#1c202b" stroke-width="0.7"/>
<defs><clipPath id="pa"><rect x="721.5" y="22" width="26" height="261.0"/></clipPath></defs>
<g clip-path="url(#pa)">
<text x="725.3" y="24.70" font-size="6.4" fill="#b2b5be" textLength="17.6" lengthAdjust="spacingAndGlyphs">230.00</text>
<text x="725.3" y="51.06" font-size="6.4" fill="#b2b5be" textLength="17.6" lengthAdjust="spacingAndGlyphs">220.00</text>
<text x="725.3" y="77.11" font-size="6.4" fill="#b2b5be" textLength="17.6" lengthAdjust="spacingAndGlyphs">210.00</text>
<text x="725.3" y="98.87" font-size="6.4" fill="#b2b5be" textLength="17.6" lengthAdjust="spacingAndGlyphs">202.00</text>
<text x="725.3" y="121.51" font-size="6.4" fill="#b2b5be" textLength="17.6" lengthAdjust="spacingAndGlyphs">194.00</text>
<text x="725.3" y="145.10" font-size="6.4" fill="#b2b5be" textLength="17.6" lengthAdjust="spacingAndGlyphs">186.00</text>
<text x="725.3" y="176.05" font-size="6.4" fill="#b2b5be" textLength="17.6" lengthAdjust="spacingAndGlyphs">176.00</text>
<text x="725.3" y="195.48" font-size="6.4" fill="#b2b5be" textLength="17.6" lengthAdjust="spacingAndGlyphs">170.00</text>
<text x="725.3" y="215.61" font-size="6.4" fill="#b2b5be" textLength="17.6" lengthAdjust="spacingAndGlyphs">164.00</text>
<text x="725.3" y="236.49" font-size="6.4" fill="#b2b5be" textLength="17.6" lengthAdjust="spacingAndGlyphs">158.00</text>
<text x="725.3" y="269.34" font-size="6.4" fill="#b2b5be" textLength="17.6" lengthAdjust="spacingAndGlyphs">149.00</text>
<text x="725.3" y="284.58" font-size="6.4" fill="#b2b5be" textLength="17.6" lengthAdjust="spacingAndGlyphs">145.00</text>
<rect x="725.6" y="25.6" width="17.6" height="8.4" rx="2" fill="#151924" stroke="#2e323d" stroke-width="0.6"/>
<text x="734.4" y="32.1" font-size="6.2" fill="#a3a6af" textLength="13.6" lengthAdjust="spacingAndGlyphs" text-anchor="middle">USDT</text>
</g>
<text x="725.3" y="297.62" font-size="6.4" fill="#b2b5be" textLength="14.6" lengthAdjust="spacingAndGlyphs">80.00</text>
<text x="725.3" y="326.18" font-size="6.4" fill="#b2b5be" textLength="14.6" lengthAdjust="spacingAndGlyphs">60.00</text>
<text x="725.3" y="354.72" font-size="6.4" fill="#b2b5be" textLength="14.6" lengthAdjust="spacingAndGlyphs">40.00</text>
<rect x="721.1" y="54.60" width="25.6" height="8.1" fill="#ff0000"/>
<line x1="721.2" y1="58.60" x2="722.6" y2="58.60" stroke="#ffffff" stroke-width="0.6"/>
<text x="725.3" y="61.00" font-size="6.4" fill="#ffffff" textLength="17.6" lengthAdjust="spacingAndGlyphs">215.90</text>
<rect x="721.1" y="108.40" width="25.6" height="8.1" fill="#ff0000"/>
<line x1="721.2" y1="112.40" x2="722.6" y2="112.40" stroke="#ffffff" stroke-width="0.6"/>
<text x="725.3" y="114.80" font-size="6.4" fill="#ffffff" textLength="17.6" lengthAdjust="spacingAndGlyphs">196.04</text>
<rect x="721.1" y="146.50" width="25.6" height="8.1" fill="#ff0000"/>
<line x1="721.2" y1="150.50" x2="722.6" y2="150.50" stroke="#ffffff" stroke-width="0.6"/>
<text x="725.3" y="152.90" font-size="6.4" fill="#ffffff" textLength="17.6" lengthAdjust="spacingAndGlyphs">183.26</text>
<rect x="721.1" y="154.90" width="25.6" height="8.1" fill="#26a69a"/>
<line x1="721.2" y1="158.90" x2="722.6" y2="158.90" stroke="#ffffff" stroke-width="0.6"/>
<text x="725.3" y="161.30" font-size="6.4" fill="#ffffff" textLength="17.6" lengthAdjust="spacingAndGlyphs">181.30</text>
<rect x="721.1" y="181.50" width="25.6" height="8.1" fill="#00ff00"/>
<line x1="721.2" y1="185.50" x2="722.6" y2="185.50" stroke="#0b3d0b" stroke-width="0.6"/>
<text x="725.3" y="187.90" font-size="6.4" fill="#0b3d0b" textLength="17.6" lengthAdjust="spacingAndGlyphs">172.03</text>
<rect x="721.1" y="250.90" width="25.6" height="8.1" fill="#00ff00"/>
<line x1="721.2" y1="254.90" x2="722.6" y2="254.90" stroke="#0b3d0b" stroke-width="0.6"/>
<text x="725.3" y="257.30" font-size="6.4" fill="#0b3d0b" textLength="17.6" lengthAdjust="spacingAndGlyphs">152.19</text>
<rect x="721.1" y="333.90" width="23.1" height="8.1" fill="#ffff00"/>
<line x1="721.2" y1="337.90" x2="722.6" y2="337.90" stroke="#333300" stroke-width="0.6"/>
<text x="725.3" y="340.30" font-size="6.4" fill="#333300" textLength="14.6" lengthAdjust="spacingAndGlyphs">50.00</text>
<text x="25.30" y="389.7" font-size="6.6" fill="#b2b5be" textLength="6.9" lengthAdjust="spacingAndGlyphs" text-anchor="middle">11</text>
<text x="66.54" y="389.7" font-size="6.6" fill="#b2b5be" textLength="6.9" lengthAdjust="spacingAndGlyphs" text-anchor="middle">13</text>
<text x="128.40" y="389.7" font-size="6.6" fill="#b2b5be" textLength="6.9" lengthAdjust="spacingAndGlyphs" text-anchor="middle">16</text>
<text x="169.64" y="389.7" font-size="6.6" fill="#b2b5be" textLength="6.9" lengthAdjust="spacingAndGlyphs" text-anchor="middle">18</text>
<text x="210.88" y="389.7" font-size="6.6" fill="#b2b5be" textLength="6.9" lengthAdjust="spacingAndGlyphs" text-anchor="middle">20</text>
<text x="272.74" y="389.7" font-size="6.6" fill="#b2b5be" textLength="6.9" lengthAdjust="spacingAndGlyphs" text-anchor="middle">23</text>
<text x="313.98" y="389.7" font-size="6.6" fill="#b2b5be" textLength="6.9" lengthAdjust="spacingAndGlyphs" text-anchor="middle">25</text>
<text x="355.22" y="389.7" font-size="6.6" fill="#b2b5be" textLength="6.9" lengthAdjust="spacingAndGlyphs" text-anchor="middle">27</text>
<text x="396.46" y="389.7" font-size="6.6" fill="#b2b5be" textLength="6.9" lengthAdjust="spacingAndGlyphs" text-anchor="middle">29</text>
<text x="437.70" y="389.7" font-size="6.6" fill="#b2b5be" textLength="10.0" lengthAdjust="spacingAndGlyphs" text-anchor="middle">Dec</text>
<text x="478.94" y="389.7" font-size="6.6" fill="#b2b5be" textLength="3.45" lengthAdjust="spacingAndGlyphs" text-anchor="middle">3</text>
<text x="520.18" y="389.7" font-size="6.6" fill="#b2b5be" textLength="3.45" lengthAdjust="spacingAndGlyphs" text-anchor="middle">5</text>
<text x="561.42" y="389.7" font-size="6.6" fill="#b2b5be" textLength="3.45" lengthAdjust="spacingAndGlyphs" text-anchor="middle">7</text>
<text x="602.66" y="389.7" font-size="6.6" fill="#b2b5be" textLength="3.45" lengthAdjust="spacingAndGlyphs" text-anchor="middle">9</text>
<text x="643.90" y="389.7" font-size="6.6" fill="#b2b5be" textLength="6.9" lengthAdjust="spacingAndGlyphs" text-anchor="middle">11</text>
<text x="705.76" y="389.7" font-size="6.6" fill="#b2b5be" textLength="6.9" lengthAdjust="spacingAndGlyphs" text-anchor="middle">14</text>
<path d="M3.8,406.7 C2.3,406.7 2.4,403.6 4.3,403.2 C4.6,400.6 6.4,399.2 7.8,399.2 C9.2,399.2 10.2,400.2 10.5,401.2 C11.8,400.2 13.8,400.9 13.9,402.8 C15.3,403.2 15.4,406.7 13.8,406.7 Z" fill="#2196f3"/>
<polyline points="4.4,405.8 7.5,402.1 10.0,405.0 11.6,403.3 13.2,405.2" fill="none" stroke="#131722" stroke-width="0.75" stroke-linejoin="round"/>
<text x="16" y="405.1" font-size="6.4" fill="#c8cbd3" textLength="34.4" lengthAdjust="spacingAndGlyphs">TradingView</text>
</svg></body></html>
